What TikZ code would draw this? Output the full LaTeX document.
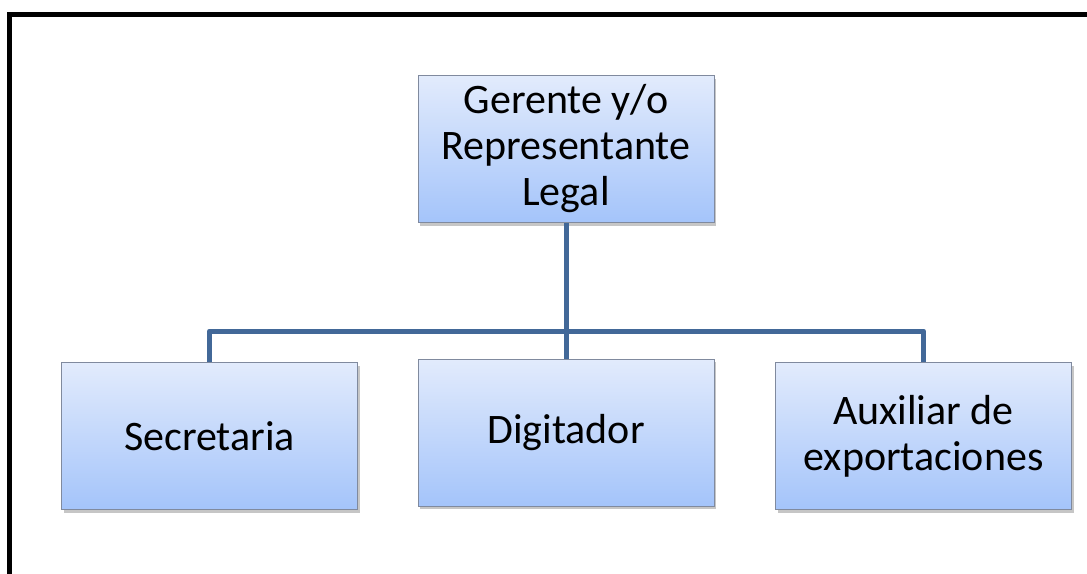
\documentclass[tikz,border=0pt]{standalone}
\usepackage{fontspec}
\setmainfont{Carlito}
\usetikzlibrary{shadows}
\definecolor{boxtop}{RGB}{226,235,252}
\definecolor{boxbot}{RGB}{164,196,250}
\definecolor{boxline}{RGB}{128,138,158}
\definecolor{linkblue}{RGB}{66,104,152}
\begin{document}
\begin{tikzpicture}[x=1pt,y=-1pt,
  every node/.style={font=\fontsize{42}{46}\selectfont},
  cargo/.style={draw=boxline,line width=1pt,top color=boxtop,bottom color=boxbot,
    minimum width=296pt,minimum height=147pt,align=center,inner sep=0pt,
    drop shadow={shadow xshift=2pt,shadow yshift=-3pt,opacity=0.45}},
  link/.style={linkblue,line width=5pt,line join=round}]
\useasboundingbox (0,0) rectangle (1087,573);
% outer frame, open to the right and below
\begin{scope}
\clip (0,0) rectangle (1087,573);
\draw[line width=5pt] (9.5,580) -- (9.5,14) -- (1095,14);
\end{scope}
% positions
\node[cargo] (gerente) at (566,149) {Gerente y/o\\Representante\\Legal};
\node[cargo] (secretaria) at (209.5,436) {Secretaria};
\node[cargo] (digitador) at (566,432.5) {Digitador};
\node[cargo] (auxiliar) at (923.5,436) {Auxiliar de\\exportaciones};
\coordinate (bar) at (566,331);
% connectors
\draw[link] (gerente.south) -- (digitador.north);
\draw[link] (secretaria.north) |- (bar) -| (auxiliar.north);
\end{tikzpicture}
\end{document}
